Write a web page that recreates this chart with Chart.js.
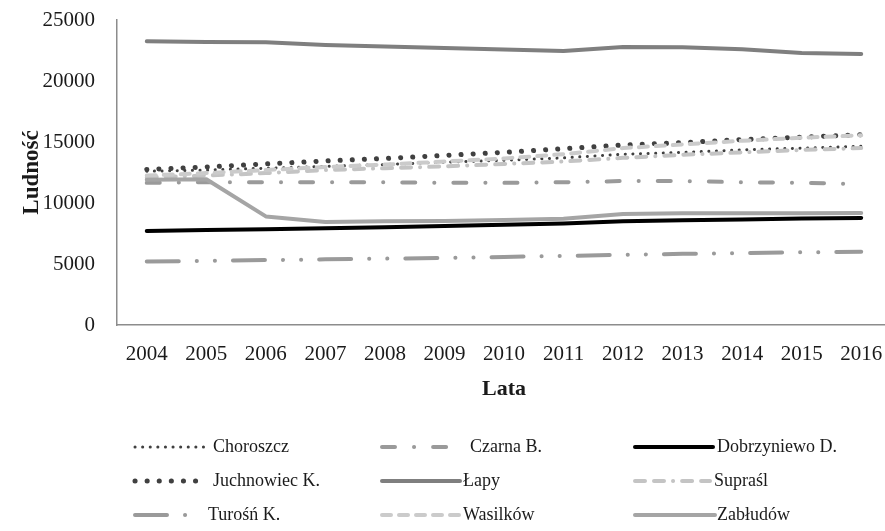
<!DOCTYPE html>
<html>
<head>
<meta charset="utf-8">
<script src="https://cdn.jsdelivr.net/npm/chart.js@4/dist/chart.umd.min.js"></script>
<style>
  html, body { margin: 0; padding: 0; background: #fff; overflow: hidden; }
  #wrap { width: 891px; height: 531px; position: relative; }
</style>
</head>
<body>
<div id="wrap"><canvas id="c"></canvas></div>
<script>
const years = ['2004','2005','2006','2007','2008','2009','2010','2011','2012','2013','2014','2015','2016'];
const yTicks = [0, 5000, 10000, 15000, 20000, 25000];

const choroszcz   = [12600, 12700, 12850, 13000, 13150, 13350, 13500, 13700, 14000, 14150, 14350, 14500, 14650];
const czarnaB     = [11650, 11700, 11700, 11700, 11700, 11650, 11650, 11700, 11800, 11800, 11700, 11650, 11550];
const dobrzyniewo = [7700, 7780, 7850, 7930, 8020, 8120, 8220, 8320, 8500, 8580, 8650, 8720, 8780];
const juchnowiec  = [12750, 12950, 13200, 13450, 13650, 13900, 14150, 14450, 14750, 14950, 15200, 15400, 15600];
const lapy        = [23250, 23200, 23170, 22950, 22830, 22700, 22580, 22460, 22780, 22760, 22600, 22300, 22220];
const suprasl     = [12100, 12250, 12450, 12700, 12850, 13000, 13200, 13400, 13700, 13950, 14150, 14350, 14500];
const turosn      = [5200, 5260, 5320, 5380, 5440, 5500, 5580, 5660, 5760, 5830, 5900, 5960, 6000];
const wasilkow    = [12250, 12450, 12700, 12950, 13150, 13400, 13650, 14000, 14500, 14800, 15100, 15350, 15550];
const zabludow    = [11900, 11950, 8900, 8450, 8500, 8520, 8600, 8700, 9100, 9150, 9150, 9170, 9180];

const seriesNames = ['Choroszcz', 'Czarna B.', 'Dobrzyniewo D.', 'Juchnowiec K.', 'Łapy', 'Supraśl', 'Turośń K.', 'Wasilków', 'Zabłudów'];
const seriesData = [choroszcz, czarnaB, dobrzyniewo, juchnowiec, lapy, suprasl, turosn, wasilkow, zabludow];
const styles = [
  { color: '#404040', width: 3,   dash: [0.1, 7.5] },
  { color: '#9a9a9a', width: 4,   dash: [13, 19, 0.1, 19] },
  { color: '#000000', width: 4,   dash: [] },
  { color: '#404040', width: 5,   dash: [0.1, 12] },
  { color: '#7f7f7f', width: 4,   dash: [] },
  { color: '#c4c4c4', width: 4,   dash: [10, 9, 10, 9, 0.1, 9] },
  { color: '#9a9a9a', width: 4,   dash: [32, 18, 0.1, 18, 0.1, 18] },
  { color: '#cbcbcb', width: 4,   dash: [9, 8] },
  { color: '#a5a5a5', width: 4,   dash: [] }
];
const legendTextX = [213, 470, 717, 213, 463, 714, 208, 463, 717];
const legendLineLen = [73, 75, 78, 62, 78, 75, 52, 78, 80];

const FONT = "'Liberation Serif', 'Times New Roman', serif";

const datasets = seriesNames.map((name, i) => ({
  label: name,
  data: seriesData[i],
  borderColor: styles[i].color,
  backgroundColor: styles[i].color,
  borderWidth: styles[i].width,
  borderDash: styles[i].dash,
  borderCapStyle: 'round',
  borderJoinStyle: 'round',
  pointRadius: 0,
  pointHoverRadius: 0,
  tension: 0,
  fill: false,
  order: seriesNames.length - i
}));

const legendPlugin = {
  id: 'gridLegend',
  afterDraw(chart) {
    const ctx = chart.ctx;
    const colX = [135, 382, 635];
    const rowY = [447, 481, 515];
    ctx.save();
    ctx.font = "18px " + FONT;
    ctx.textBaseline = 'middle';
    ctx.textAlign = 'left';
    chart.data.datasets.forEach((ds, i) => {
      const col = i % 3, row = Math.floor(i / 3);
      const x = colX[col], y = rowY[row];
      ctx.beginPath();
      ctx.strokeStyle = ds.borderColor;
      ctx.lineWidth = ds.borderWidth;
      ctx.lineCap = 'round';
      ctx.setLineDash(ds.borderDash || []);
      ctx.moveTo(x, y);
      ctx.lineTo(x + legendLineLen[i], y);
      ctx.stroke();
      ctx.setLineDash([]);
      ctx.fillStyle = '#1a1a1a';
      ctx.fillText(ds.label, legendTextX[i], y);
    });
    ctx.restore();
  }
};

new Chart(document.getElementById('c'), {
  type: 'line',
  data: { labels: years, datasets },
  options: {
    responsive: true,
    maintainAspectRatio: false,
    animation: false,
    layout: { padding: { left: 0, right: 0, top: 20, bottom: 126 } },
    plugins: { legend: { display: false }, tooltip: { enabled: false } },
    scales: {
      x: {
        offset: true,
        afterFit(scale) { scale.height = 80; scale.paddingLeft = 0; scale.paddingRight = 0; },
        grid: { display: false, drawTicks: false },
        border: { display: true, color: '#8c8c8c', width: 1.5 },
        ticks: { color: '#1a1a1a', font: { family: FONT, size: 21 }, padding: 17, maxRotation: 0, autoSkip: false },
        title: { display: true, text: 'Lata', color: '#1a1a1a', font: { family: FONT, size: 22, weight: 'bold' }, padding: { top: 0, bottom: 2 } }
      },
      y: {
        min: 0, max: 25000,
        afterFit(scale) { scale.width = 117; scale.paddingTop = 0; scale.paddingBottom = 0; },
        afterBuildTicks(scale) { scale.ticks = yTicks.map(v => ({ value: v })); },
        grid: { display: false, drawTicks: false },
        border: { display: true, color: '#8c8c8c', width: 1.5 },
        ticks: { color: '#1a1a1a', font: { family: FONT, size: 21 }, padding: 22, callback: (v) => String(v) },
        title: { display: true, text: 'Ludność', color: '#1a1a1a', font: { family: FONT, size: 23, weight: 'bold' }, padding: { top: 18, bottom: 0 } }
      }
    }
  },
  plugins: [legendPlugin]
});
</script>
</body>
</html>
